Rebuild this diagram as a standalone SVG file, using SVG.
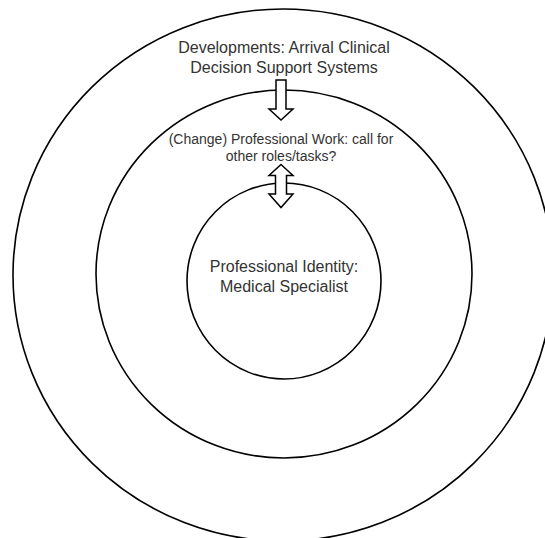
<svg xmlns="http://www.w3.org/2000/svg" width="545" height="538" viewBox="0 0 545 538">
<style>
.ring{fill:none;stroke:#000;stroke-width:1.6}
.arrow{fill:#fff;stroke:#000;stroke-width:1.5;stroke-linejoin:miter}
.lbl{font-family:"Liberation Sans",Arial,sans-serif;fill:#333;text-anchor:middle}
</style>
<rect width="545" height="538" fill="#fff"/>
<g id="outer">
<ellipse class="ring" cx="283" cy="275" rx="270" ry="266"/>
<text class="lbl" font-size="16" x="284" y="53">Developments: Arrival Clinical</text>
<text class="lbl" font-size="16" x="284" y="72.5">Decision Support Systems</text>
</g>
<g id="middle">
<ellipse class="ring" cx="284" cy="274" rx="188" ry="184"/>
<text class="lbl" font-size="14" x="281" y="144">(Change) Professional Work: call for</text>
<text class="lbl" font-size="14" x="281" y="160.5">other roles/tasks?</text>
</g>
<g id="inner">
<ellipse class="ring" cx="284" cy="281" rx="97" ry="98"/>
<text class="lbl" font-size="16" x="284" y="272">Professional Identity:</text>
<text class="lbl" font-size="16" x="284" y="291.5">Medical Specialist</text>
</g>
<g id="connectors">
<path class="arrow" d="M276,80 L286,80 L286,109 L293,109 L281,120 L269,109 L276,109 Z"/>
<path class="arrow" d="M281,164.5 L293,175.5 L286.5,175.5 L286.5,194 L293,194 L281,207.5 L269,194 L275.5,194 L275.5,175.5 L269,175.5 Z"/>
</g>
</svg>
